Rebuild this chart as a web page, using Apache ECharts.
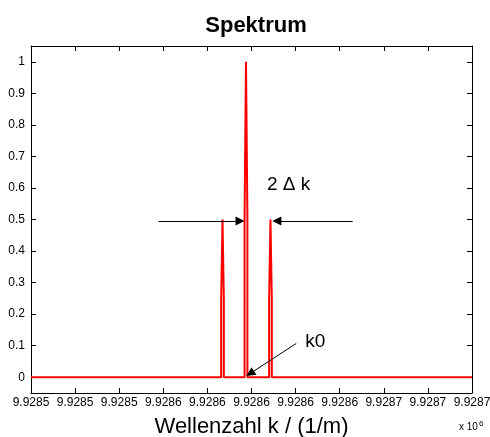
<!DOCTYPE html>
<html>
<head>
<meta charset="utf-8">
<script src="https://cdn.jsdelivr.net/npm/echarts@6/dist/echarts.min.js"></script>
<style>
  html, body { margin: 0; padding: 0; background: #fff; }
  #chart { width: 490px; height: 437px; }
</style>
</head>
<body>
<div id="chart"></div>
<script>
// wave number samples (1/m) and spectrum amplitude
const kValues = [
  9928500,
  9928586.25, 9928586.25, 9928586.85, 9928587.45, 9928587.45,
  9928596.85, 9928596.85, 9928597.5, 9928598.15, 9928598.15,
  9928608.0, 9928608.0, 9928608.6, 9928609.2, 9928609.2,
  9928700
];
const amplitudes = [
  0,
  0, 0.25, 0.5, 0.25, 0,
  0, 0.5, 1, 0.5, 0,
  0, 0.25, 0.5, 0.25, 0,
  0
];
const yTicks = [0, 0.1, 0.2, 0.3, 0.4, 0.5, 0.6, 0.7, 0.8, 0.9, 1];

// annotation arrows: [from k, from amp, to k, to amp]
const arrowLeft = [9928557.9, 0.495, 9928594.8, 0.495];
const arrowRight = [9928645.9, 0.495, 9928611.5, 0.495];
const arrowK0 = [9928620.3, 0.107, 9928599.4, 0.012];
const labelDelta = { text: '2 Δ k', k: 9928607.0, amp: 0.611 };
const labelK0 = { text: 'k0', k: 9928624.4, amp: 0.113 };

const FONT = 'Liberation Sans, Arial, sans-serif';

const chart = echarts.init(document.getElementById('chart'));

const tickAxis = {
  axisLine: { show: true, onZero: false, lineStyle: { color: '#000', width: 1 } },
  axisTick: { show: true, inside: true, length: 5, lineStyle: { color: '#000' } },
  splitLine: { show: false },
};

const arrow = (a) => [{ coord: [a[0], a[1]] }, { coord: [a[2], a[3]] }];
const textPoint = (t) => ({
  coord: [t.k, t.amp],
  label: {
    show: true, formatter: t.text, position: [0, 0],
    align: 'left', verticalAlign: 'middle',
    fontFamily: FONT, fontSize: 19, color: '#000',
  },
});

chart.setOption({
  animation: false,
  backgroundColor: '#fff',
  title: {
    text: 'Spektrum',
    left: 251,
    textAlign: 'center',
    top: 10,
    textStyle: { fontFamily: FONT, fontWeight: 'bold', fontSize: 22, color: '#000' },
  },
  grid: { left: 31, right: 18, top: 46, bottom: 44, outerBoundsMode: 'none' },
  xAxis: [
    {
      type: 'value',
      position: 'bottom',
      min: 9928500, max: 9928700, interval: 20,
      ...tickAxis,
      axisLabel: {
        color: '#000', fontFamily: FONT, fontSize: 12, margin: 4,
        showMinLabel: true, showMaxLabel: true, hideOverlap: false,
        formatter: (v) => (v / 1e6).toFixed(4),
      },
      name: 'Wellenzahl k / (1/m)',
      nameLocation: 'middle',
      nameGap: 23,
      nameMoveOverlap: false,
      nameTextStyle: { fontFamily: FONT, fontSize: 22, color: '#000' },
    },
    {
      type: 'value',
      position: 'top',
      min: 9928500, max: 9928700, interval: 20,
      ...tickAxis,
      axisLabel: { show: false },
    },
  ],
  yAxis: [
    {
      type: 'value',
      position: 'left',
      min: -0.05, max: 1.05,
      ...tickAxis,
      axisTick: { ...tickAxis.axisTick, customValues: yTicks },
      axisLabel: {
        color: '#000', fontFamily: FONT, fontSize: 12, margin: 6,
        customValues: yTicks,
        formatter: (v) => String(v),
      },
    },
    {
      type: 'value',
      position: 'right',
      min: -0.05, max: 1.05,
      ...tickAxis,
      axisTick: { ...tickAxis.axisTick, customValues: yTicks },
      axisLabel: { show: false, customValues: yTicks },
    },
  ],
  graphic: [
    {
      type: 'text',
      left: 459,
      top: 420,
      style: {
        text: 'x 10{sup|6}',
        fontFamily: FONT,
        fontSize: 10,
        fill: '#000',
        rich: { sup: { fontSize: 8, verticalAlign: 'top', padding: [0, 0, 7, 1] } },
      },
    },
  ],
  series: [
    {
      type: 'line',
      data: kValues.map((k, i) => [k, amplitudes[i]]),
      symbol: 'none',
      lineStyle: { color: '#ff0000', width: 2 },
      itemStyle: { color: '#ff0000' },
      silent: true,
      markLine: {
        silent: true,
        symbol: ['none', 'triangle'],
        symbolSize: 9,
        lineStyle: { color: '#000', width: 1, type: 'solid' },
        itemStyle: { color: '#000' },
        label: { show: false },
        data: [arrow(arrowLeft), arrow(arrowRight), arrow(arrowK0)],
      },
      markPoint: {
        silent: true,
        symbol: 'circle',
        symbolSize: 0,
        data: [textPoint(labelDelta), textPoint(labelK0)],
      },
    },
  ],
});
</script>
</body>
</html>
